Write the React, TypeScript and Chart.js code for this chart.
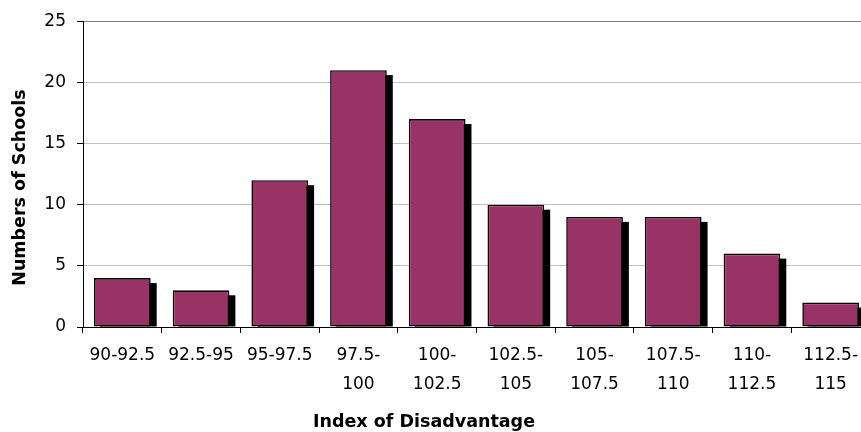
import React, { useEffect, useRef } from "react";
import { Chart, registerables } from "chart.js";

Chart.register(...registerables);

const categories: string[][] = [
  ["90-92.5"],
  ["92.5-95"],
  ["95-97.5"],
  ["97.5-", "100"],
  ["100-", "102.5"],
  ["102.5-", "105"],
  ["105-", "107.5"],
  ["107.5-", "110"],
  ["110-", "112.5"],
  ["112.5-", "115"],
];
const schools: number[] = [4, 3, 12, 21, 17, 10, 9, 9, 6, 2];
const yTicks: number[] = [0, 5, 10, 15, 20, 25];
const xTitle = "Index of Disadvantage";
const yTitle = "Numbers of Schools";

const FONT = "'DejaVu Sans', 'Liberation Sans', Arial, sans-serif";

const shadowPlugin = {
  id: "barShadow",
  beforeDatasetsDraw(chart: any) {
    const ctx = chart.ctx;
    const area = chart.chartArea;
    const meta = chart.getDatasetMeta(0);
    ctx.save();
    ctx.beginPath();
    ctx.rect(area.left, area.top, area.right - area.left, area.bottom - area.top);
    ctx.clip();
    ctx.fillStyle = "#000000";
    meta.data.forEach((bar: any) => {
      const p = bar.getProps(["x", "y", "base", "width"], true);
      const left = p.x - p.width / 2 + 6;
      const top = p.y + 5;
      ctx.fillRect(left, top, p.width, p.base - top);
    });
    ctx.restore();
  },
};

const titlePlugin = {
  id: "axisTitles",
  afterDraw(chart: any) {
    const ctx = chart.ctx;
    ctx.save();
    ctx.fillStyle = "#000000";
    ctx.font = `bold 17.5px ${FONT}`;
    ctx.textAlign = "center";
    ctx.textBaseline = "alphabetic";
    ctx.fillText(xTitle, 424, 427);
    ctx.translate(25, 187.5);
    ctx.rotate(-Math.PI / 2);
    ctx.fillText(yTitle, 0, 0);
    ctx.restore();
  },
};

export default function App() {
  const ref = useRef<HTMLCanvasElement | null>(null);

  useEffect(() => {
    if (!ref.current) return;
    const chart = new Chart(ref.current, {
      type: "bar",
      data: {
        labels: categories,
        datasets: [
          {
            data: schools,
            backgroundColor: "#993366",
            borderColor: "#000000",
            borderWidth: 1.6,
            borderSkipped: false,
            barPercentage: 0.72,
            categoryPercentage: 1,
            clip: 0,
          } as any,
        ],
      },
      options: {
        animation: false,
        responsive: false,
        maintainAspectRatio: false,
        devicePixelRatio: 1,
        layout: { padding: { top: 17, left: 0, right: 0, bottom: 0 } },
        plugins: {
          legend: { display: false },
          tooltip: { enabled: false },
          title: { display: false },
        },
        scales: {
          x: {
            type: "category",
            offset: true,
            grid: {
              offset: true,
              drawOnChartArea: false,
              drawTicks: true,
              tickLength: 6,
              tickColor: "#000000",
              color: "#000000",
            },
            border: { display: true, color: "#000000", width: 1 },
            ticks: {
              color: "#000000",
              font: { family: FONT, size: 17, lineHeight: 29 / 17 },
              padding: 8,
              maxRotation: 0,
              minRotation: 0,
              autoSkip: false,
            },
            afterFit(scale: any) {
              scale.height = 105;
            },
          },
          y: {
            min: 0,
            max: 25,
            afterBuildTicks(scale: any) {
              scale.ticks = yTicks.map((v) => ({ value: v }));
            },
            grid: {
              color: (c: any) =>
                c.tick && c.tick.value === 25
                  ? "#808080"
                  : c.tick && c.tick.value === 0
                  ? "#000000"
                  : "#c0c0c0",
              tickColor: "#000000",
              tickLength: 6,
              drawTicks: true,
            },
            border: { display: true, color: "#000000", width: 1 },
            ticks: {
              color: "#000000",
              font: { family: FONT, size: 17 },
              padding: 11,
            },
            afterFit(scale: any) {
              scale.width = 83;
            },
          },
        },
      },
      plugins: [shadowPlugin, titlePlugin],
    });
    return () => chart.destroy();
  }, []);

  return (
    <div
      style={{
        position: "fixed",
        left: 0,
        top: 0,
        width: 861,
        height: 432,
        overflow: "hidden",
        background: "#ffffff",
      }}
    >
      <canvas
        ref={ref}
        width={870}
        height={432}
        style={{ width: 870, height: 432, display: "block" }}
      />
    </div>
  );
}
